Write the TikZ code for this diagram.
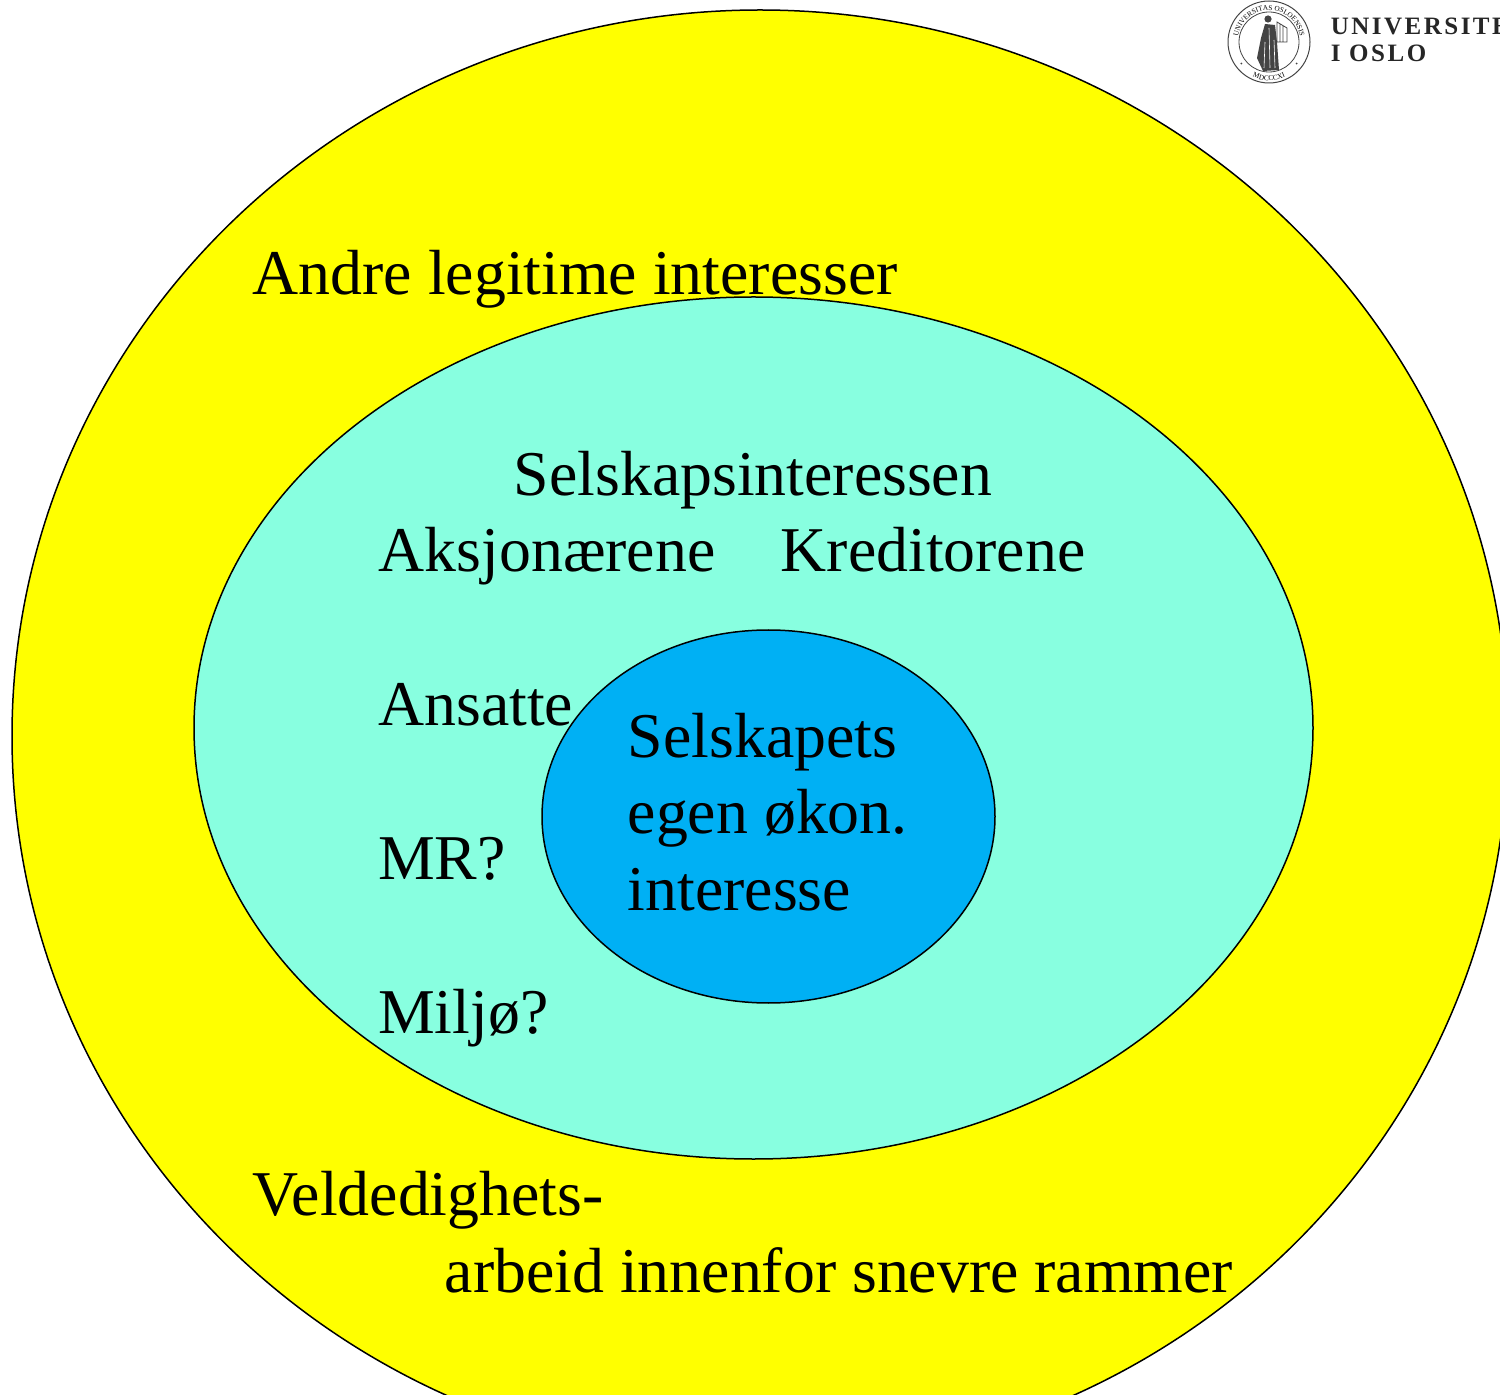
\documentclass[tikz,border=0pt]{standalone}
\usepackage{fontspec}
\setmainfont{Liberation Serif}
\newfontface\logofont[LetterSpace=10]{Liberation Serif Bold}
\usetikzlibrary{calc,decorations.text}
\definecolor{outerfill}{HTML}{FFFF00}
\definecolor{middlefill}{HTML}{88FFE0}
\definecolor{innerfill}{HTML}{00B0F4}
\definecolor{sealgray}{HTML}{444444}
\tikzset{
  label text/.style={anchor=base west, inner sep=0pt, font=\fontsize{31.9}{31.9}\selectfont},
  logo text/.style={anchor=base west, inner sep=0pt, text=black!85, font=\fontsize{12.5}{12.5}\logofont},
  seal text/.style={decorate, decoration={text along path, text align=center, text={#1}}}
}
\begin{document}
\begin{tikzpicture}[x=1pt,y=-1pt,line width=0.75pt]
            % frame
            \useasboundingbox (0,0) rectangle (750,697.5);
            \clip (0,0) rectangle (750,697.5);
            % coordinates
            \coordinate (centre-outer) at (380,368);
            \coordinate (centre-middle) at (376.75,364);
            \coordinate (centre-inner) at (384.25,408.25);
            \coordinate (seal) at (634.5,21);
            % circles
            \draw[fill=outerfill] (centre-outer) ellipse (374 and 363);
            \draw[fill=middlefill] (centre-middle) ellipse (279.75 and 215.5);
            \draw[fill=innerfill] (centre-inner) ellipse (113.25 and 93.25);
            % outer texts
            \node[label text] (andre) at (126,147.5) {Andre legitime interesser};
            \node[label text] (veldedighet) at (126,607.5) {Veldedighets-};
            \node[label text] (arbeid) at (222,646.25) {arbeid innenfor snevre rammer};
            % middle texts
            \node[label text] (selskapsint) at (256.5,248) {Selskapsinteressen};
            \node[label text] (aksjonar) at (189,286) {Aksjonærene};
            \node[label text] (kreditor) at (390,286) {Kreditorene};
            \node[label text] (ansatte) at (188.75,362.75) {Ansatte};
            \node[label text] (mr) at (188.75,439.5) {MR?};
            \node[label text] (miljo) at (188.75,516.5) {Miljø?};
            % inner text
            \node[label text] (selskapets) at (313.5,379) {Selskapets};
            \node[label text] (egen) at (313.5,417) {egen økon.};
            \node[label text] (interesse) at (313.5,455) {interesse};
            % logo
            \begin{scope}[shift={(seal)}, y=1pt, sealgray]
              \draw[fill=white, line width=0.5pt] (0,0) ellipse (20.5 and 20.5);
              \draw[line width=0.4pt] (0,0) circle (15);
              \path[seal text={|\fontsize{3.6}{3.6}\selectfont|UNIVERSITAS OSLOENSIS}] (214:15.8) arc (214:-34:15.8);
              \path[seal text={|\fontsize{3.6}{3.6}\selectfont|MDCCCXI}] (232:19.2) arc (232:308:19.2);
              \fill (218:17.5) circle (0.5);
              \fill (-38:17.5) circle (0.5);
              % figure
              \fill (-0.5,11.5) circle (1.8);
              \fill (-2,9) -- (3,8.5) -- (4,0) -- (5,-14) -- (-3,-14.5) -- (-6,-8) -- (-4,2) -- cycle;
              \draw[white, line width=0.3pt] (0,7) -- (0.5,-13) (2.5,1) -- (3,-13) (-2,0) -- (-2.5,-13);
              \draw[line width=0.4pt] (4,10) -- (9,7) -- (9,0) -- (4,0) -- cycle (5.5,9) -- (5.5,0) (7,8) -- (7,0);
            \end{scope}
            \node[logo text] (uni) at (665,17.5) {UNIVERSITETET};
            \node[logo text] (oslo) at (665,31) {I OSLO};
        \end{tikzpicture}
\end{document}
